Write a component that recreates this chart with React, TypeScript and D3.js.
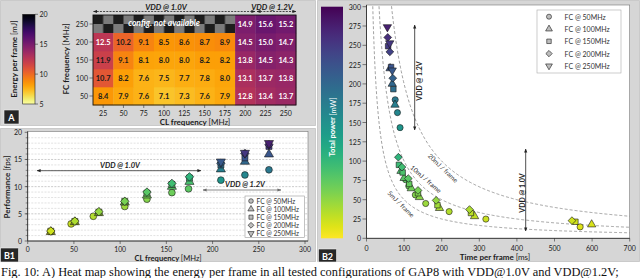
import { useEffect, useRef } from "react";
import * as d3 from "d3";

// heat map axes
const clFreqs = [25, 50, 75, 100, 125, 150, 175, 200, 225, 250];
const fcFreqs = [50, 100, 150, 200, 250];
const fcLabels = ["FC @ 50MHz", "FC @ 100MHz", "FC @ 150MHz", "FC @ 200MHz", "FC @ 250MHz"];

// energy per frame [mJ], one array per FC frequency (null = config. not available)
const energyFc50 = [8.4, 7.9, 7.6, 7.1, 7.3, 7.6, 7.9, 12.8, 13.4, 13.7];
const energyFc100 = [10.7, 8.2, 7.6, 7.5, 7.7, 7.8, 8.0, 13.1, 13.7, 13.8];
const energyFc150 = [11.9, 9.1, 8.1, 8.0, 8.0, 8.2, 8.2, 13.8, 14.5, 14.3];
const energyFc200 = [12.5, 10.2, 9.1, 8.5, 8.6, 8.7, 8.9, 14.5, 15.0, 14.7];
const energyFc250 = [null, null, null, null, null, null, null, 14.9, 15.6, 15.2];

// performance [fps]
const fpsFc50 = [1.76, 3.15, 4.55, 6.35, 7.7, 8.9, 9.6, 11.2, 12.15, 13.1];
const fpsFc100 = [1.67, 3.48, 5.15, 7.1, 8.4, 10.0, 10.9, 13.2, 14.6, 15.95];
const fpsFc150 = [1.8, 3.6, 5.3, 7.3, 8.8, 10.4, 11.6, 14.0, 15.3, 17.4];
const fpsFc200 = [1.83, 3.65, 5.4, 7.3, 9.0, 10.6, 11.8, 14.3, 16.1, 17.7];
const fpsFc250 = [null, null, null, null, null, null, null, 14.6, 16.2, 18.0];

// CL frequency where the B1 markers sit
const clPosFc50 = [25, 47, 71, 105, 129, 156, 174, 209, 235, 261];
const clPosOther = [25, 51, 77, 105, 129, 156, 175, 209, 235, 261];

// ticks
const energyTicks = [5, 10, 15, 20];
const perfTicks = [0, 5, 10, 15, 20];
const clTicks = [0, 50, 100, 150, 200, 250, 300];
const powerTicks = [0, 25, 50, 75, 100, 125, 150, 175, 200, 225, 250, 275, 300];
const timeTicks = [0, 100, 200, 300, 400, 500, 600, 700];
const isoEnergies = [5, 10, 20];
const isoLabels = ["5mJ / frame", "10mJ / frame", "20mJ / frame"];

const energyRows = [energyFc50, energyFc100, energyFc150, energyFc200, energyFc250];
const fpsRows = [fpsFc50, fpsFc100, fpsFc150, fpsFc200, fpsFc250];

const FONT = "Lato, 'Open Sans', sans-serif";
const PANEL = "#d6d6d6";

const symbolRot = [0, 0, 0, 45, 180];
function symbolPath(i: number, size: number) {
  const type = [d3.symbolCircle, d3.symbolTriangle, d3.symbolSquare, d3.symbolSquare, d3.symbolTriangle][i];
  return d3.symbol(type, size)() as string;
}
function addMarker(g: any, i: number, x: number, y: number, size: number, fill: string) {
  g.append("path")
    .attr("d", symbolPath(i, size))
    .attr("transform", `translate(${x},${y}) rotate(${symbolRot[i]})`)
    .attr("fill", fill)
    .attr("stroke", "#1a1a1a")
    .attr("stroke-width", 0.6);
}
function txt(g: any, s: string, x: number, y: number, size: number, anchor = "middle") {
  return g.append("text")
    .text(s)
    .attr("x", x)
    .attr("y", y)
    .attr("font-size", size)
    .attr("text-anchor", anchor)
    .attr("dominant-baseline", "central")
    .attr("fill", "#1a1a1a");
}
function labelBox(g: any, s: string, x: number, y: number, w: number, h: number) {
  g.append("rect").attr("x", x).attr("y", y).attr("width", w).attr("height", h)
    .attr("fill", "#262626").attr("stroke", "#f0f0f0").attr("stroke-width", 0.6);
  txt(g, s, x + w / 2, y + h / 2 + 0.5, 9).attr("fill", "white").attr("font-weight", 700);
}
function powerColor(p: number) {
  return d3.interpolateViridis(Math.max(0, 1 - p / 300));
}

function draw(svg: any) {
  const defs = svg.append("defs");

  // panels
  const panels = [[0.5, 0.5, 315, 125], [0.5, 128.5, 315, 133], [317.5, 0.5, 322, 261]];
  panels.forEach((p) => {
    svg.append("rect").attr("x", p[0]).attr("y", p[1]).attr("width", p[2]).attr("height", p[3])
      .attr("fill", PANEL).attr("stroke", "#9a9a9a").attr("stroke-width", 0.8).attr("stroke-dasharray", "1,1");
  });

  // arrow heads
  [["arrDark", "#222"], ["arrGray", "#6d6d6d"]].forEach(([id, c]) => {
    defs.append("marker").attr("id", id).attr("viewBox", "0 0 10 10")
      .attr("refX", 9).attr("refY", 5).attr("markerWidth", 4).attr("markerHeight", 4)
      .attr("markerUnits", "userSpaceOnUse").attr("orient", "auto-start-reverse")
      .append("path").attr("d", "M0,1 L10,5 L0,9 z").attr("fill", c);
  });

  // ================= A: heat map =================
  const xA = d3.scaleBand<string>().domain(clFreqs.map(String)).range([93, 296]);
  const yA = d3.scaleBand<string>().domain(fcFreqs.map(String).reverse()).range([15, 105]);
  const colorA = d3.scaleSequential(d3.interpolateInferno).domain([20, 5]);
  const bw = xA.bandwidth();
  const bh = yA.bandwidth();

  const pat = defs.append("pattern").attr("id", "checker").attr("patternUnits", "userSpaceOnUse")
    .attr("x", 93).attr("y", 15).attr("width", bw).attr("height", bh);
  pat.append("rect").attr("width", bw).attr("height", bh).attr("fill", "#7b7b7b");
  pat.append("rect").attr("width", bw / 2).attr("height", bh / 2).attr("fill", "#1d1d1d");
  pat.append("rect").attr("x", bw / 2).attr("y", bh / 2).attr("width", bw / 2).attr("height", bh / 2).attr("fill", "#1d1d1d");

  const gA = svg.append("g").attr("font-family", FONT);
  fcFreqs.forEach((fc, r) => {
    clFreqs.forEach((cl, c) => {
      const v = energyRows[r][c];
      if (v === null) return;
      gA.append("rect").attr("x", xA(String(cl))).attr("y", yA(String(fc)))
        .attr("width", bw + 0.3).attr("height", bh + 0.3).attr("fill", colorA(v));
      txt(gA, v.toFixed(1), (xA(String(cl)) as number) + bw / 2, (yA(String(fc)) as number) + bh / 2, 7.5)
        .attr("font-weight", 700).attr("fill", v >= 12 ? "#ffffff" : "#1a1a1a");
    });
  });
  gA.append("rect").attr("x", xA("25")).attr("y", yA("250")).attr("width", bw * 7).attr("height", bh)
    .attr("fill", "url(#checker)");
  txt(gA, "config. not available", (xA("25") as number) + bw * 3.5, (yA("250") as number) + bh / 2 - 1, 8.5)
    .attr("font-weight", 700).attr("font-style", "italic").attr("fill", "white");
  gA.append("rect").attr("x", 93).attr("y", 15).attr("width", 203).attr("height", 90)
    .attr("fill", "none").attr("stroke", "#111").attr("stroke-width", 0.9);

  fcFreqs.forEach((fc) => {
    const y = (yA(String(fc)) as number) + bh / 2;
    gA.append("line").attr("x1", 89.5).attr("x2", 93).attr("y1", y).attr("y2", y).attr("stroke", "#333").attr("stroke-width", 0.6);
    txt(gA, String(fc), 88, y, 7, "end");
  });
  clFreqs.forEach((cl) => {
    const x = (xA(String(cl)) as number) + bw / 2;
    gA.append("line").attr("x1", x).attr("x2", x).attr("y1", 105).attr("y2", 108).attr("stroke", "#333").attr("stroke-width", 0.6);
    txt(gA, String(cl), x, 112.5, 7);
  });
  const xt = txt(gA, "CL frequency ", 195, 122, 8).attr("font-weight", 700);
  xt.append("tspan").text("[MHz]").attr("font-weight", 400);
  const yt = txt(gA, "FC frequency ", 0, 0, 8).attr("font-weight", 700).attr("transform", "translate(66,59) rotate(-90)");
  yt.append("tspan").text("[MHz]").attr("font-weight", 400);

  // colour bar A
  const gradA = defs.append("linearGradient").attr("id", "gradA").attr("x1", 0).attr("y1", 0).attr("x2", 0).attr("y2", 1);
  d3.range(0, 1.001, 0.05).forEach((t) => gradA.append("stop").attr("offset", t).attr("stop-color", d3.interpolateInferno(t)));
  const yCbA = d3.scaleLinear().domain([5, 20]).range([104, 14.3]);
  gA.append("rect").attr("x", 22.7).attr("y", yCbA(20)).attr("width", 12.3).attr("height", yCbA(5) - yCbA(20))
    .attr("fill", "url(#gradA)").attr("stroke", "#222").attr("stroke-width", 0.6);
  energyTicks.forEach((v) => {
    gA.append("line").attr("x1", 35).attr("x2", 38).attr("y1", yCbA(v)).attr("y2", yCbA(v)).attr("stroke", "#333").attr("stroke-width", 0.6);
    txt(gA, String(v), 39.5, yCbA(v), 7, "start");
  });
  const et = txt(gA, "Energy per frame ", 0, 0, 8).attr("font-weight", 700).attr("transform", "translate(14,59) rotate(-90)");
  et.append("tspan").text("[mJ]").attr("font-weight", 400);

  // VDD ranges A
  gA.append("line").attr("x1", 93.5).attr("x2", 255).attr("y1", 11.5).attr("y2", 11.5).attr("stroke", "#222")
    .attr("stroke-width", 0.8).attr("stroke-dasharray", "2,1.2").attr("marker-start", "url(#arrDark)").attr("marker-end", "url(#arrDark)");
  gA.append("line").attr("x1", 257).attr("x2", 296).attr("y1", 11.5).attr("y2", 11.5).attr("stroke", "#222")
    .attr("stroke-width", 0.8).attr("stroke-dasharray", "2,1.2").attr("marker-start", "url(#arrDark)").attr("marker-end", "url(#arrDark)");
  txt(gA, "VDD @ 1.0V", 166, 6.5, 7.8).attr("font-weight", 700).attr("font-style", "italic");
  txt(gA, "VDD @ 1.2V", 272, 6.5, 7.8).attr("font-weight", 700).attr("font-style", "italic");
  labelBox(gA, "A", 4, 110, 15, 14);

  // ================= B1: performance =================
  const gB1 = svg.append("g").attr("font-family", FONT);
  const xB1 = d3.scaleLinear().domain([0, 300]).range([27.7, 305]);
  const yB1 = d3.scaleLinear().domain([0, 20]).range([241, 132.3]);
  gB1.append("rect").attr("x", 27.7).attr("y", 131.5).attr("width", 280.3).attr("height", 109.5)
    .attr("fill", "white").attr("stroke", "#777").attr("stroke-width", 0.6);
  yB1.ticks(20).forEach((v) => {
    if (v === 0 || v === 20) return;
    gB1.append("line").attr("x1", 28).attr("x2", 307.5).attr("y1", yB1(v)).attr("y2", yB1(v))
      .attr("stroke", v % 5 === 0 ? "#a8a8a8" : "#cfcfcf").attr("stroke-width", 0.6).attr("stroke-dasharray", "2,1.3");
    gB1.append("line").attr("x1", 25.7).attr("x2", 27.7).attr("y1", yB1(v)).attr("y2", yB1(v)).attr("stroke", "#333").attr("stroke-width", 0.5);
  });
  gB1.append("line").attr("x1", 27.7).attr("x2", 27.7).attr("y1", 131.5).attr("y2", 241).attr("stroke", "#222").attr("stroke-width", 0.8);
  gB1.append("line").attr("x1", 27.7).attr("x2", 308).attr("y1", 241).attr("y2", 241).attr("stroke", "#222").attr("stroke-width", 0.8);
  perfTicks.forEach((v) => {
    gB1.append("line").attr("x1", 24.7).attr("x2", 27.7).attr("y1", yB1(v)).attr("y2", yB1(v)).attr("stroke", "#333").attr("stroke-width", 0.6);
    txt(gB1, String(v), 22, yB1(v), 7, "end");
  });
  clTicks.forEach((v) => {
    gB1.append("line").attr("x1", xB1(v)).attr("x2", xB1(v)).attr("y1", 241).attr("y2", 244).attr("stroke", "#333").attr("stroke-width", 0.6);
    txt(gB1, String(v), xB1(v), 249.3, 6.8);
  });
  const bt = txt(gB1, "CL frequency ", 168, 258.3, 7.6).attr("font-weight", 700);
  bt.append("tspan").text("[MHz]").attr("font-weight", 400);
  const pt = txt(gB1, "Performance ", 0, 0, 8).attr("font-weight", 700).attr("transform", "translate(6.5,187) rotate(-90)");
  pt.append("tspan").text("[fps]").attr("font-weight", 400);

  // VDD ranges B1
  gB1.append("line").attr("x1", 37).attr("x2", 201).attr("y1", 170.7).attr("y2", 170.7).attr("stroke", "#333")
    .attr("stroke-width", 0.8).attr("marker-start", "url(#arrDark)").attr("marker-end", "url(#arrDark)");
  txt(gB1, "VDD @ 1.0V", 120, 165.5, 7.5).attr("font-weight", 700).attr("font-style", "italic");
  gB1.append("line").attr("x1", 203).attr("x2", 281).attr("y1", 190).attr("y2", 190).attr("stroke", "#6d6d6d")
    .attr("stroke-width", 0.8).attr("marker-start", "url(#arrGray)").attr("marker-end", "url(#arrGray)");
  txt(gB1, "VDD @ 1.2V", 245, 184.8, 7.5).attr("font-weight", 700).attr("font-style", "italic");

  fcFreqs.forEach((_, s) => {
    clFreqs.forEach((_, c) => {
      const f = fpsRows[s][c];
      const e = energyRows[s][c];
      if (f === null || e === null) return;
      const cl = s === 0 ? clPosFc50[c] : clPosOther[c];
      addMarker(gB1, s, xB1(cl), yB1(f), 36, powerColor(e * f));
    });
  });

  // legend B1
  gB1.append("rect").attr("x", 245).attr("y", 196).attr("width", 59.5).attr("height", 41.5)
    .attr("fill", "white").attr("stroke", "#999").attr("stroke-width", 0.6);
  fcLabels.forEach((l, i) => {
    const y = 201 + i * 8.1;
    addMarker(gB1, i, 251, y, 17, "#bdbdbd");
    txt(gB1, l, 256.5, y, 6.6, "start").attr("fill", "#333");
  });
  labelBox(gB1, "B1", 0.5, 248, 18, 14);

  // ================= B2: power vs time =================
  const gB2 = svg.append("g").attr("font-family", FONT);
  const xB2 = d3.scaleLinear().domain([0, 700]).range([366.5, 629.7]);
  const yB2 = d3.scaleLinear().domain([0, 300]).range([238.3, 6.7]);
  gB2.append("rect").attr("x", 366.5).attr("y", 5).attr("width", 263.2).attr("height", 233.3)
    .attr("fill", "white").attr("stroke", "#777").attr("stroke-width", 0.6);
  defs.append("clipPath").attr("id", "clipB2").append("rect")
    .attr("x", 366.5).attr("y", 5).attr("width", 263.2).attr("height", 233.3);

  // colour bar B2
  const gradB = defs.append("linearGradient").attr("id", "gradB").attr("x1", 0).attr("y1", 0).attr("x2", 0).attr("y2", 1);
  d3.range(0, 1.001, 0.05).forEach((t) => gradB.append("stop").attr("offset", t).attr("stop-color", d3.interpolateViridis(t)));
  gB2.append("rect").attr("x", 321).attr("y", yB2(300)).attr("width", 22).attr("height", yB2(0) - yB2(300))
    .attr("fill", "url(#gradB)");
  const tp = txt(gB2, "Total power ", 0, 0, 7.5).attr("font-weight", 700).attr("fill", "white")
    .attr("transform", "translate(332.5,127) rotate(-90)");
  tp.append("tspan").text("[mW]").attr("font-weight", 400);

  powerTicks.forEach((v) => {
    gB2.append("line").attr("x1", 362.5).attr("x2", 366.5).attr("y1", yB2(v)).attr("y2", yB2(v)).attr("stroke", "#333").attr("stroke-width", 0.6);
    txt(gB2, String(v), 361, yB2(v), 7, "end");
  });
  timeTicks.forEach((v) => {
    gB2.append("line").attr("x1", xB2(v)).attr("x2", xB2(v)).attr("y1", 238.3).attr("y2", 241.5).attr("stroke", "#333").attr("stroke-width", 0.6);
    txt(gB2, String(v), xB2(v), 248, 7);
  });
  gB2.append("line").attr("x1", 366.5).attr("x2", 366.5).attr("y1", 5).attr("y2", 238.3).attr("stroke", "#222").attr("stroke-width", 0.8);
  gB2.append("line").attr("x1", 366.5).attr("x2", 629.7).attr("y1", 238.3).attr("y2", 238.3).attr("stroke", "#222").attr("stroke-width", 0.8);
  const tt = txt(gB2, "Time per frame ", 495, 257, 8).attr("font-weight", 700);
  tt.append("tspan").text("[ms]").attr("font-weight", 400);

  // iso-energy curves
  const gIso = gB2.append("g").attr("clip-path", "url(#clipB2)");
  isoEnergies.forEach((e) => {
    const ts = d3.range((e * 1000) / 320, 702, 2);
    const l = d3.line<number>().x((t) => xB2(t)).y((t) => yB2((e * 1000) / t));
    gIso.append("path").attr("d", l(ts)).attr("fill", "none").attr("stroke", "#8a8a8a")
      .attr("stroke-width", 0.8).attr("stroke-dasharray", "3,2");
  });
  const isoPos = [[401, 204, 45], [426, 179, 41], [443, 168, 44]];
  isoLabels.forEach((l, i) => {
    txt(gB2, l, 0, 0, 6.5).attr("fill", "#333")
      .attr("transform", `translate(${isoPos[i][0]},${isoPos[i][1]}) rotate(${isoPos[i][2]})`);
  });

  // VDD ranges B2
  gB2.append("line").attr("x1", 414.7).attr("x2", 414.7).attr("y1", 25).attr("y2", 130).attr("stroke", "#222")
    .attr("stroke-width", 0.8).attr("marker-start", "url(#arrDark)").attr("marker-end", "url(#arrDark)");
  txt(gB2, "VDD @ 1.2V", 0, 0, 7).attr("font-weight", 700).attr("transform", "translate(419,81) rotate(-90)");
  gB2.append("line").attr("x1", 525.7).attr("x2", 525.7).attr("y1", 149).attr("y2", 231).attr("stroke", "#222")
    .attr("stroke-width", 0.8).attr("marker-start", "url(#arrDark)").attr("marker-end", "url(#arrDark)");
  txt(gB2, "VDD @ 1.0V", 0, 0, 7).attr("font-weight", 700).attr("transform", "translate(522,193) rotate(-90)");

  fcFreqs.forEach((_, s) => {
    clFreqs.forEach((_, c) => {
      const f = fpsRows[s][c];
      const e = energyRows[s][c];
      if (f === null || e === null) return;
      addMarker(gB2, s, xB2(1000 / f), yB2(e * f), 30, powerColor(e * f));
    });
  });

  // legend B2
  gB2.append("rect").attr("x", 537).attr("y", 10).attr("width", 84).attr("height", 63)
    .attr("fill", "white").attr("stroke", "#aaa").attr("stroke-width", 0.6);
  fcLabels.forEach((l, i) => {
    const y = 16.7 + i * 12.3;
    addMarker(gB2, i, 549, y, 20, "#bdbdbd");
    txt(gB2, l, 564.5, y, 7, "start").attr("fill", "#333");
  });
  labelBox(gB2, "B2", 318.5, 249, 18, 13);

  // caption
  svg.append("text")
    .text("Fig. 10: A) Heat map showing the energy per frame in all tested configurations of GAP8 with VDD@1.0V and VDD@1.2V;")
    .attr("x", 1).attr("y", 275.5)
    .attr("font-family", "'Liberation Serif', 'Times New Roman', serif")
    .attr("font-size", 12.4).attr("fill", "#111");
}

export default function App() {
  const ref = useRef<SVGSVGElement>(null);
  useEffect(() => {
    const svg = d3.select(ref.current);
    svg.selectAll("*").remove();
    draw(svg);
  }, []);
  return (
    <svg ref={ref} width={640} height={278}
      style={{ position: "absolute", left: 0, top: 0, background: "white" }} />
  );
}
